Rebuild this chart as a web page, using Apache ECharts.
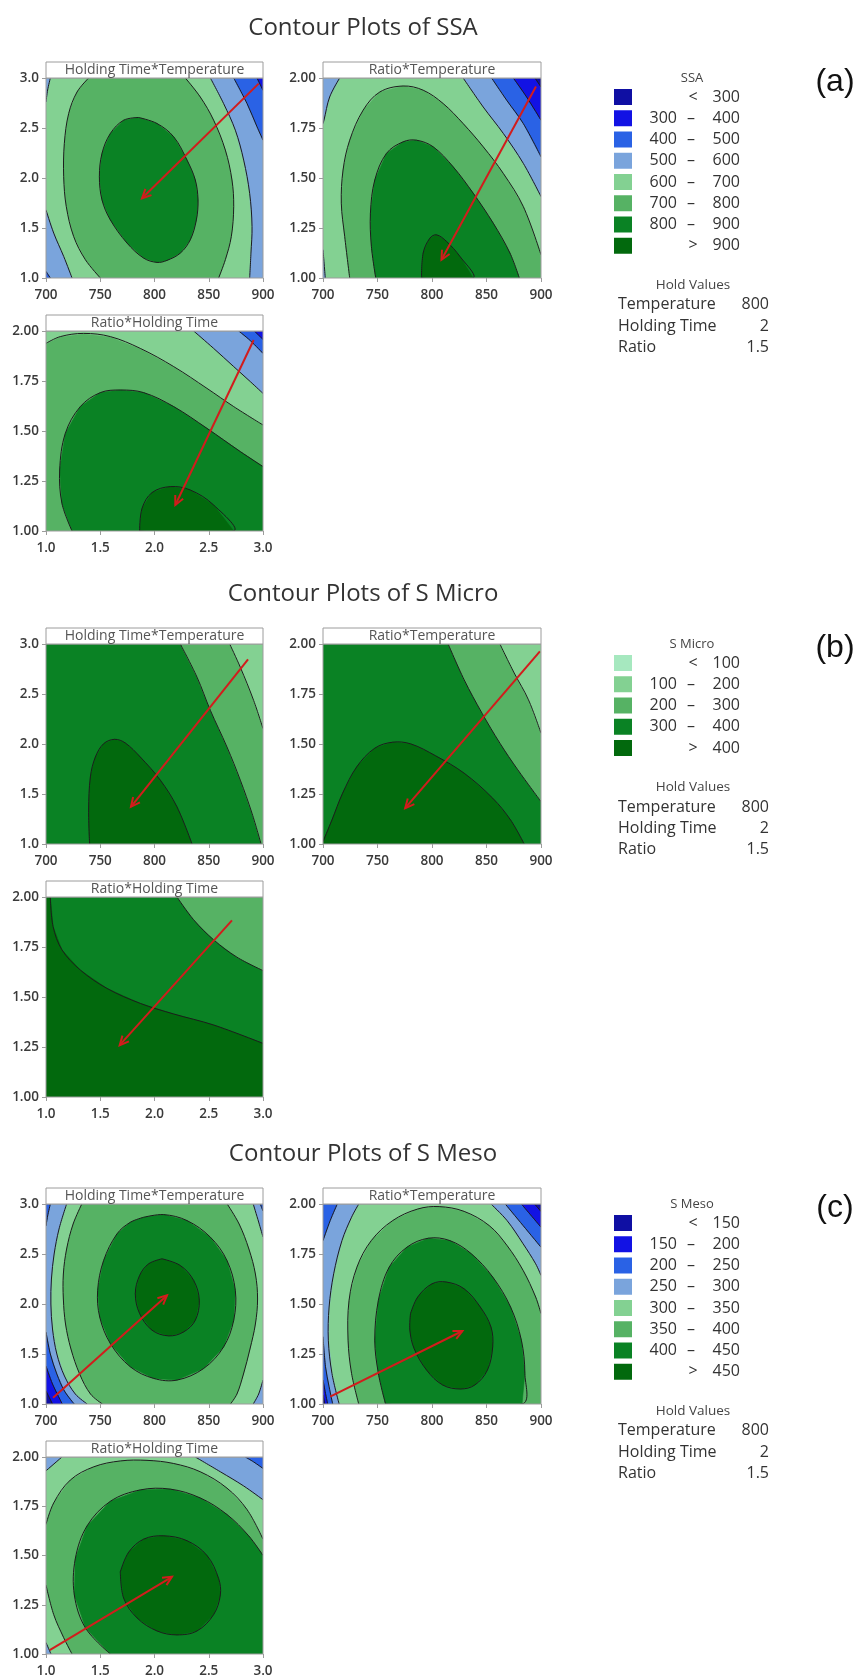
<!DOCTYPE html>
<html><head><meta charset="utf-8">
<script src="https://cdn.jsdelivr.net/npm/echarts/dist/echarts.min.js"></script>
<style>html,body{margin:0;padding:0;background:#fff}#c{width:859px;height:1678px}</style>
</head><body><div id="c"></div><script>
// ---------- tick labels / axes ----------
const TEMP_TICKS = [700, 750, 800, 850, 900];
const HT_TICKS = [1.0, 1.5, 2.0, 2.5, 3.0];
const RATIO_TICKS = [1.00, 1.25, 1.50, 1.75, 2.00];

// ---------- legend levels / colours ----------
const SSA_LEVELS = [300, 400, 500, 600, 700, 800, 900];
const MICRO_LEVELS = [100, 200, 300, 400];
const MESO_LEVELS = [150, 200, 250, 300, 350, 400, 450];
const SSA_COLORS = ['#0f0fa3', '#1212e4', '#2a62e5', '#7aa4dc', '#83d192', '#56b264', '#0a8224', '#02690d'];
const MICRO_COLORS = ['#a6e8bf', '#83d192', '#56b264', '#0a8224', '#02690d'];
const MESO_COLORS = ['#0f0fa3', '#1212e4', '#2a62e5', '#7aa4dc', '#83d192', '#56b264', '#0a8224', '#02690d'];
const HOLD_NAMES = ['Temperature', 'Holding Time', 'Ratio'];
const HOLD_VALUES = ['800', '2', '1.5'];

// ---------- (a) SSA : Holding Time * Temperature ----------
const A1_800 = [[785.4,2.605],[802.3,2.545],[817.7,2.412],[830.0,2.179],[837.6,1.980],[840.1,1.781],[838.6,1.581],[833.0,1.382],[823.8,1.249],[811.5,1.176],[802.3,1.156],[790.0,1.199],[774.7,1.349],[759.3,1.581],[751.6,1.781],[749.2,2.013],[751.6,2.246],[759.3,2.445],[771.6,2.578]];
const A1_700L = [[739.3,3.0],[728.6,2.86],[720.9,2.645],[716.9,2.346],[716.3,2.013],[718.7,1.714],[725.5,1.415],[736.3,1.183],[750.1,1.0]];
const A1_700R = [[859.1,1.0],[865.3,1.183],[870.8,1.415],[873.0,1.714],[871.4,1.98],[865.3,2.279],[854.5,2.578],[842.2,2.81],[828.4,3.0]];
const A1_600TL = [[704.0,3.0],[701.5,2.88],[700,2.76]];
const A1_600BL = [[700,1.681],[707.1,1.449],[716.3,1.216],[724.0,1.0]];
const A1_600R = [[851.5,3.0],[863.7,2.744],[874.5,2.478],[882.2,2.179],[887.7,1.847],[889.9,1.515],[888.9,1.249],[887.7,1.0]];
const A1_500R = [[873.0,3.0],[885.3,2.744],[894.5,2.512],[900,2.379]];
const A1_500BL = [[700,1.066],[704,1.0]];
const A1_400R = [[894.5,3.0],[900,2.877]];
const A1_ARROW = [896, 2.944, 788.5, 1.797];

// ---------- (a) SSA : Ratio * Temperature ----------
const A2_700 = [[724.5,1.0],[719.9,1.208],[716.8,1.374],[718.4,1.540],[724.5,1.689],[736.8,1.839],[752.1,1.930],[773.5,1.960],[791.9,1.939],[810.3,1.872],[828.6,1.772],[847.0,1.656],[865.4,1.523],[883.8,1.357],[900,1.116]];
const A2_800 = [[748.4,1.0],[744.4,1.158],[743.5,1.324],[747.5,1.490],[758.2,1.623],[773.5,1.681],[785.8,1.689],[801.1,1.656],[819.4,1.556],[837.8,1.424],[856.2,1.274],[871.5,1.125],[880.1,1.0]];
const A2_900 = [[790.4,1.0],[791.9,1.125],[798.0,1.199],[804.1,1.216],[813.3,1.183],[825.6,1.108],[837.8,1.0]];
const A2_600TL = [[715.3,2.0],[706.1,1.905],[700.9,1.789],[700,1.772]];
const A2_600BL = [[700,1.141],[702.1,1.0]];
const A2_600R = [[828.6,2.0],[847.0,1.855],[865.4,1.723],[883.8,1.573],[900,1.407]];
const A2_500 = [[854.7,2.0],[868.5,1.889],[883.8,1.772],[900,1.606]];
const A2_400 = [[874.6,2.0],[886.8,1.905],[900,1.789]];
const A2_300 = [[894.5,2.0],[900,1.955]];
const A2_ARROW = [895.4, 1.958, 808.7, 1.091];

// ---------- (a) SSA : Ratio * Holding Time ----------
const A3_700 = [[1.0,1.938],[1.132,1.972],[1.347,1.988],[1.593,1.972],[1.869,1.913],[2.177,1.822],[2.484,1.713],[2.730,1.622],[3.0,1.530]];
const A3_600 = [[2.361,2.0],[2.545,1.913],[2.730,1.822],[2.883,1.747],[3.0,1.688]];
const A3_500 = [[2.776,2.0],[2.883,1.952],[3.0,1.888]];
const A3_400 = [[2.920,2.0],[3.0,1.958]];
const A3_800 = [[1.240,1.0],[1.147,1.138],[1.126,1.305],[1.178,1.488],[1.316,1.622],[1.501,1.692],[1.685,1.705],[1.900,1.692],[2.177,1.622],[2.484,1.513],[2.791,1.397],[3.0,1.322]];
const A3_900 = [[1.863,1.0],[1.885,1.113],[1.977,1.192],[2.146,1.222],[2.330,1.205],[2.545,1.130],[2.730,1.0]];
const A3_ARROW = [2.914, 1.955, 2.192, 1.130];

// ---------- (b) S Micro ----------
const B1_300 = [[823.8,3.0],[839.2,2.668],[851.5,2.336],[866.8,1.970],[879.1,1.638],[889.9,1.306],[898.2,1.0]];
const B1_200 = [[869.3,3.0],[879.1,2.767],[891.4,2.435],[900,2.153]];
const B1_400 = [[740.2,1.0],[739.3,1.339],[740.9,1.671],[745.5,1.870],[753.1,2.003],[763.3,2.047],[773.1,2.010],[786.9,1.870],[805.4,1.638],[820.7,1.372],[834.6,1.0]];
const B1_ARROW = [886.2, 2.847, 778.3, 1.372];
const B2_300 = [[814.8,2.0],[829.5,1.821],[845.9,1.654],[862.3,1.504],[878.7,1.371],[900,1.212]];
const B2_200 = [[862.3,2.0],[875.4,1.855],[888.5,1.721],[900,1.554]];
const B2_400 = [[700,1.012],[708.2,1.120],[718.0,1.254],[731.1,1.387],[747.5,1.479],[763.9,1.509],[780.3,1.501],[803.3,1.441],[829.5,1.354],[855.7,1.229],[872.1,1.120],[884.6,1.0]];
const B2_ARROW = [899.0, 1.963, 775.4, 1.179];
const B3_400 = [[1.040,2.0],[1.065,1.853],[1.147,1.736],[1.316,1.635],[1.562,1.543],[1.869,1.468],[2.177,1.415],[2.545,1.360],[3.0,1.268]];
const B3_300 = [[2.207,2.0],[2.361,1.886],[2.545,1.786],[2.760,1.699],[3.0,1.632]];
const B3_ARROW = [2.714, 1.883, 1.679, 1.259];

// ---------- (c) S Meso ----------
const C1_450 = [[806.9,2.452],[823.8,2.385],[836.1,2.236],[841.3,2.037],[837.6,1.837],[826.9,1.721],[813.1,1.681],[797.7,1.738],[786.3,1.904],[782.3,2.103],[786.3,2.286],[794.6,2.402]];
const C1_400 = [[790.0,2.867],[808.4,2.894],[830.0,2.834],[851.5,2.668],[866.8,2.435],[874.5,2.136],[873.0,1.837],[863.7,1.571],[845.3,1.355],[820.7,1.239],[799.2,1.256],[777.7,1.372],[759.3,1.605],[749.5,1.870],[747.6,2.136],[753.1,2.435],[765.4,2.701],[777.7,2.817]];
const C1_350L = [[733,3.0],[725,2.8],[719,2.55],[716,2.3],[716,2.05],[718,1.8],[723,1.55],[731,1.3],[741,1.1],[752,1.0]];
const C1_350R = [[870,1.0],[876,1.1],[882,1.3],[888,1.55],[893,1.8],[895,2.05],[893,2.3],[887,2.55],[878,2.8],[867,3.0]];
const C1_300L = [[719,3.0],[712,2.75],[707.5,2.5],[705,2.25],[704.5,2.0],[706,1.75],[710,1.5],[717,1.28],[727,1.1],[738,1.0]];
const C1_300TR = [[891,3.0],[896,2.82],[900,2.67]];
const C1_300BR = [[900,1.24],[896,1.1],[891,1.0]];
const C1_250TL = [[704,3.0],[701.5,2.88],[700,2.78]];
const C1_250BL = [[700,1.72],[704,1.5],[710,1.3],[717,1.13],[726,1.0]];
const C1_250TR = [[897.5,3.0],[900,2.93]];
const C1_200 = [[700,1.38],[706,1.2],[715,1.0]];
const C1_150 = [[700,1.13],[706,1.0]];
const C1_ARROW = [706.5, 1.063, 811.5, 2.086];
const C2_450 = [[780.3,1.452],[786.9,1.535],[800.0,1.601],[813.1,1.610],[829.5,1.576],[844.3,1.485],[854.1,1.385],[855.7,1.286],[850.8,1.169],[839.3,1.095],[826.2,1.075],[809.8,1.095],[795.1,1.169],[783.6,1.277],[779.7,1.369]];
const C2_400 = [[757.4,1.0],[750.8,1.153],[747.5,1.319],[750.8,1.518],[760.7,1.684],[777.0,1.784],[796.7,1.829],[816.4,1.817],[836.1,1.751],[855.7,1.635],[872.1,1.485],[882.0,1.319],[885.2,1.153],[882.6,1.0]];
const C2_350 = [[732.8,1.0],[726.2,1.153],[723.0,1.319],[723.9,1.518],[731.1,1.684],[744.3,1.817],[763.9,1.917],[786.9,1.975],[806.6,1.987],[829.5,1.963],[852.5,1.892],[868.9,1.792],[883.6,1.668],[895.1,1.535],[900,1.452]];
const C2_300L = [[714.8,1.0],[708.2,1.153],[704.9,1.319],[705.6,1.485],[709.8,1.651],[717.4,1.817],[726.2,1.934],[732.8,2.0]];
const C2_300R = [[854.1,2.0],[868.9,1.917],[883.6,1.801],[895.1,1.701],[900,1.643]];
const C2_250TL = [[713.1,2.0],[706.6,1.917],[700,1.817]];
const C2_250BL = [[700,1.336],[702.3,1.186],[705.6,1.086],[708.9,1.0]];
const C2_200BL = [[700,1.120],[702.3,1.053],[704.3,1.0]];
const C2_150BL = [[700,1.045],[701.6,1.0]];
const C2_250TR = [[867.2,2.0],[883.6,1.892],[900,1.784]];
const C2_200TR = [[882.0,2.0],[891.8,1.937],[900,1.884]];
const C2_150TR = [[894.1,2.0],[900,1.963]];
const C2_ARROW = [706.6, 1.037, 827.9, 1.365];
const C3_450 = [[1.685,1.417],[1.762,1.517],[1.900,1.583],[2.084,1.60],[2.300,1.575],[2.484,1.50],[2.591,1.383],[2.607,1.30],[2.545,1.20],[2.392,1.117],[2.207,1.097],[2.023,1.117],[1.839,1.183],[1.716,1.283]];
const C3_400 = [[1.593,1.0],[1.363,1.133],[1.261,1.3],[1.270,1.483],[1.378,1.65],[1.593,1.775],[1.869,1.833],[2.146,1.837],[2.422,1.792],[2.668,1.708],[2.868,1.60],[3.0,1.50]];
const C3_350 = [[1.0,1.658],[1.071,1.767],[1.224,1.883],[1.439,1.950],[1.685,1.980],[1.931,1.983],[2.177,1.967],[2.422,1.925],[2.668,1.842],[2.853,1.733],[3.0,1.583]];
const C3_350BL = [[1.24,1.0],[1.163,1.083],[1.071,1.2],[1.0,1.35]];
const C3_300TL = [[1.147,2.0],[1.0,1.930]];
const C3_300BL = [[1.0,1.058],[1.046,1.0]];
const C3_300TR = [[2.376,2.0],[2.607,1.925],[2.822,1.853],[3.0,1.783]];
const C3_250TR = [[2.837,2.0],[2.914,1.975],[3.0,1.942]];
const C3_ARROW = [1.034, 1.02, 2.161, 1.392];

// ================= layout & rendering =================
const FONT = '"Open Sans", "Noto Sans", "DejaVu Sans", sans-serif';
const RED = '#d21c1c';
const LINE = '#1c1c1c';
const FRAME = '#9c9c9c';
const SEC_OY = [0, 566, 1126];
const SECTIONS = [
  {title: 'Contour Plots of SSA', name: 'SSA', levels: SSA_LEVELS, colors: SSA_COLORS, tag: '(a)'},
  {title: 'Contour Plots of S Micro', name: 'S Micro', levels: MICRO_LEVELS, colors: MICRO_COLORS, tag: '(b)'},
  {title: 'Contour Plots of S Meso', name: 'S Meso', levels: MESO_LEVELS, colors: MESO_COLORS, tag: '(c)'}
];
const POS = [
  {left: 46, top: 78, width: 217, height: 200, xk: 'T', yk: 'HT', head: 'Holding Time*Temperature'},
  {left: 323, top: 78, width: 218, height: 200, xk: 'T', yk: 'R', head: 'Ratio*Temperature'},
  {left: 46, top: 331, width: 217, height: 200, xk: 'HT', yk: 'R', head: 'Ratio*Holding Time'}
];
const KINDS = {
  T: {ticks: TEMP_TICKS, dec: 0},
  HT: {ticks: HT_TICKS, dec: 1},
  R: {ticks: RATIO_TICKS, dec: 2}
};

const CLOSED = new Set([A1_800, A2_900, A3_900, C1_450, C1_400, C2_450, C2_400, C3_450]);

const PANELS = [
  {sec: 0, pos: 0, bg: 4, arrow: A1_ARROW,
   regions: [[5, [A1_700L, A1_700R]], [6, [A1_800]], [3, [A1_600TL, 'TL']], [3, [A1_600BL, 'BL']], [3, [A1_600R, 'BR', 'TR']], [2, [A1_500R, 'TR']], [2, [A1_500BL, 'BL']], [1, [A1_400R, 'TR']]],
   lines: [A1_800, A1_700L, A1_700R, A1_600TL, A1_600BL, A1_600R, A1_500R, A1_500BL, A1_400R]},
  {sec: 0, pos: 1, bg: 4, arrow: A2_ARROW,
   regions: [[5, [A2_700, 'BR']], [6, [A2_800]], [7, [A2_900]], [3, [A2_600TL, 'TL']], [3, [A2_600BL, 'BL']], [3, [A2_600R, 'TR']], [2, [A2_500, 'TR']], [1, [A2_400, 'TR']], [0, [A2_300, 'TR']]],
   lines: [A2_700, A2_800, A2_900, A2_600TL, A2_600BL, A2_600R, A2_500, A2_400, A2_300]},
  {sec: 0, pos: 2, bg: 5, arrow: A3_ARROW,
   regions: [[4, [A3_700, 'TR', 'TL']], [3, [A3_600, 'TR']], [2, [A3_500, 'TR']], [1, [A3_400, 'TR']], [6, [A3_800, 'BR']], [7, [A3_900]]],
   lines: [A3_700, A3_600, A3_500, A3_400, A3_800, A3_900]},
  {sec: 1, pos: 0, bg: 3, arrow: B1_ARROW,
   regions: [[2, [B1_300, 'BR', 'TR']], [1, [B1_200, 'TR']], [4, [B1_400]]],
   lines: [B1_300, B1_200, B1_400]},
  {sec: 1, pos: 1, bg: 3, arrow: B2_ARROW,
   regions: [[2, [B2_300, 'TR']], [1, [B2_200, 'TR']], [4, [B2_400, 'BL']]],
   lines: [B2_300, B2_200, B2_400]},
  {sec: 1, pos: 2, bg: 3, arrow: B3_ARROW,
   regions: [[4, [B3_400, 'BR', 'BL', 'TL']], [2, [B3_300, 'TR']]],
   lines: [B3_400, B3_300]},
  {sec: 2, pos: 0, bg: 4, arrow: C1_ARROW,
   regions: [[5, [C1_350L, C1_350R]], [6, [C1_400]], [7, [C1_450]], [3, [C1_300L, 'BL', 'TL']], [3, [C1_300TR, 'TR']], [3, [C1_300BR, 'BR']], [2, [C1_250TL, 'TL']], [2, [C1_250BL, 'BL']], [2, [C1_250TR, 'TR']], [1, [C1_200, 'BL']], [0, [C1_150, 'BL']]],
   lines: [C1_450, C1_400, C1_350L, C1_350R, C1_300L, C1_300TR, C1_300BR, C1_250TL, C1_250BL, C1_250TR, C1_200, C1_150]},
  {sec: 2, pos: 1, bg: 4, arrow: C2_ARROW,
   regions: [[5, [C2_350, 'BR']], [6, [C2_400]], [7, [C2_450]], [3, [C2_300L, 'TL', 'BL']], [3, [C2_300R, 'TR']], [2, [C2_250TL, 'TL']], [2, [C2_250BL, 'BL']], [2, [C2_250TR, 'TR']], [1, [C2_200BL, 'BL']], [1, [C2_200TR, 'TR']], [0, [C2_150BL, 'BL']], [0, [C2_150TR, 'TR']]],
   lines: [C2_450, C2_400, C2_350, C2_300L, C2_300R, C2_250TL, C2_250BL, C2_250TR, C2_200BL, C2_200TR, C2_150BL, C2_150TR]},
  {sec: 2, pos: 2, bg: 4, arrow: C3_ARROW,
   regions: [[5, [C3_350, 'BR', C3_350BL]], [6, [C3_400, 'BR']], [7, [C3_450]], [3, [C3_300TL, 'TL']], [3, [C3_300BL, 'BL']], [3, [C3_300TR, 'TR']], [2, [C3_250TR, 'TR']]],
   lines: [C3_450, C3_400, C3_350, C3_350BL, C3_300TL, C3_300BL, C3_300TR, C3_250TR]}
];

const grids = [], xAxes = [], yAxes = [], series = [], graphics = [];

function axisCfg(kind, gi, isX) {
  const k = KINDS[kind], t = k.ticks;
  return {
    type: 'value', gridIndex: gi, min: t[0], max: t[t.length - 1], interval: t[1] - t[0],
    axisLine: {show: false}, splitLine: {show: false},
    axisTick: {show: true, inside: false, length: 4, lineStyle: {color: FRAME, width: 1}},
    axisLabel: {show: true, color: '#3a3a3a', fontFamily: FONT, fontSize: 13.5, fontWeight: 600,
      margin: isX ? 10 : 7, formatter: v => Number(v).toFixed(k.dec)}
  };
}

function extOf(P) {
  const xs = KINDS[POS[P.pos].xk].ticks, ys = KINDS[POS[P.pos].yk].ticks;
  return {x0: xs[0], x1: xs[xs.length - 1], y0: ys[0], y1: ys[ys.length - 1]};
}
function buildPts(spec, ex) {
  const out = [];
  spec.forEach(s => {
    if (typeof s === 'string') out.push([s[1] === 'L' ? ex.x0 : ex.x1, s[0] === 'T' ? ex.y1 : ex.y0]);
    else s.forEach(p => out.push(p));
  });
  return out;
}

PANELS.forEach((P, gi) => {
  const L = POS[P.pos], oy = SEC_OY[P.sec], S = SECTIONS[P.sec];
  const pal = S.colors, ex = extOf(P);
  grids.push({left: L.left, top: L.top + oy, width: L.width, height: L.height, containLabel: false});
  xAxes.push(axisCfg(L.xk, gi, true));
  yAxes.push(axisCfg(L.yk, gi, false));
  const items = [{kind: 'bg'}];
  P.regions.forEach(r => items.push({kind: 'fill', color: pal[r[0]], spec: r[1]}));
  P.lines.forEach(l => items.push({kind: 'line', pts: l, closed: CLOSED.has(l)}));
  items.push({kind: 'arrow', a: P.arrow});
  series.push({
    type: 'custom', xAxisIndex: gi, yAxisIndex: gi, clip: true, silent: true, animation: false, z: 2,
    data: items.map(() => [ex.x0, ex.y0]),
    renderItem: (params, api) => {
      const it = items[params.dataIndex];
      const cs = params.coordSys;
      if (it.kind === 'bg') {
        return {type: 'rect', shape: {x: cs.x, y: cs.y, width: cs.width, height: cs.height}, style: {fill: pal[P.bg]}};
      }
      if (it.kind === 'fill') {
        const pts = buildPts(it.spec, ex).map(p => api.coord(p));
        return {type: 'polygon', shape: {points: pts}, style: {fill: it.color, stroke: it.color, lineWidth: 0.6}};
      }
      if (it.kind === 'line') {
        const pts = it.pts.map(p => api.coord(p));
        if (it.closed) pts.push(pts[0]);
        return {type: 'polyline', shape: {points: pts, smooth: 0.35}, style: {stroke: LINE, lineWidth: 1, fill: null}};
      }
      const a = api.coord([it.a[0], it.a[1]]), b = api.coord([it.a[2], it.a[3]]);
      const ang = Math.atan2(b[1] - a[1], b[0] - a[0]), len = 10, w = 0.45;
      const p1 = [b[0] - len * Math.cos(ang - w), b[1] - len * Math.sin(ang - w)];
      const p2 = [b[0] - len * Math.cos(ang + w), b[1] - len * Math.sin(ang + w)];
      return {type: 'group', children: [
        {type: 'line', shape: {x1: a[0], y1: a[1], x2: b[0], y2: b[1]}, style: {stroke: RED, lineWidth: 2}},
        {type: 'polyline', shape: {points: [p1, b, p2]}, style: {stroke: RED, lineWidth: 2, fill: null}}
      ]};
    }
  });
  // frame + header strip
  series.push({
    type: 'custom', xAxisIndex: gi, yAxisIndex: gi, clip: false, silent: true, animation: false, z: 5,
    data: [[ex.x0, ex.y0]],
    renderItem: (params) => {
      const cs = params.coordSys, hh = 16;
      return {type: 'group', children: [
        {type: 'rect', shape: {x: cs.x, y: cs.y, width: cs.width, height: cs.height}, style: {fill: null, stroke: FRAME, lineWidth: 1}},
        {type: 'rect', shape: {x: cs.x, y: cs.y - hh, width: cs.width, height: hh}, style: {fill: '#fff', stroke: FRAME, lineWidth: 1}},
        {type: 'text', x: cs.x + cs.width / 2, y: cs.y - hh / 2 + 0.5,
         style: {text: L.head, fill: '#555', font: '14px ' + FONT, align: 'center', verticalAlign: 'middle'}}
      ]};
    }
  });
});

// titles & legends
SECTIONS.forEach((S, si) => {
  const oy = SEC_OY[si];
  graphics.push({type: 'text', x: 363, y: 28 + oy, style: {text: S.title, fill: '#333', font: '24px ' + FONT, align: 'center', verticalAlign: 'middle'}});
  graphics.push({type: 'text', x: 835, y: 82 + oy, style: {text: S.tag, fill: '#111', font: '32px "Liberation Sans", Arial, sans-serif', align: 'center', verticalAlign: 'middle'}});
  graphics.push({type: 'text', x: 692, y: 78 + oy, style: {text: S.name, fill: '#444', font: '13px ' + FONT, align: 'center', verticalAlign: 'middle'}});
  const n = S.levels.length;
  const rowY = i => 97 + oy + i * 21.25;
  const lf = '16px ' + FONT;
  for (let i = 0; i <= n; i++) {
    const y = rowY(i);
    graphics.push({type: 'rect', shape: {x: 614, y: y - 8, width: 18, height: 16}, style: {fill: S.colors[i]}});
    if (i === 0 || i === n) {
      graphics.push({type: 'text', x: 693, y: y, style: {text: i === 0 ? '<' : '>', fill: '#333', font: lf, align: 'center', verticalAlign: 'middle'}});
      graphics.push({type: 'text', x: 740, y: y, style: {text: String(S.levels[i === 0 ? 0 : n - 1]), fill: '#333', font: lf, align: 'right', verticalAlign: 'middle'}});
    } else {
      graphics.push({type: 'text', x: 677, y: y, style: {text: String(S.levels[i - 1]), fill: '#333', font: lf, align: 'right', verticalAlign: 'middle'}});
      graphics.push({type: 'text', x: 691, y: y, style: {text: '–', fill: '#333', font: lf, align: 'center', verticalAlign: 'middle'}});
      graphics.push({type: 'text', x: 740, y: y, style: {text: String(S.levels[i]), fill: '#333', font: lf, align: 'right', verticalAlign: 'middle'}});
    }
  }
  const hy = rowY(n) + 39;
  graphics.push({type: 'text', x: 693, y: hy, style: {text: 'Hold Values', fill: '#444', font: '13.5px ' + FONT, align: 'center', verticalAlign: 'middle'}});
  HOLD_NAMES.forEach((nm, j) => {
    const y = hy + 20 + j * 21.3;
    graphics.push({type: 'text', x: 618, y: y, style: {text: nm, fill: '#333', font: lf, align: 'left', verticalAlign: 'middle'}});
    graphics.push({type: 'text', x: 769, y: y, style: {text: HOLD_VALUES[j], fill: '#333', font: lf, align: 'right', verticalAlign: 'middle'}});
  });
});

const chart = echarts.init(document.getElementById('c'), null, {renderer: 'canvas'});
chart.setOption({
  backgroundColor: '#fff', animation: false,
  grid: grids, xAxis: xAxes, yAxis: yAxes, series: series,
  graphic: {elements: graphics}
});
</script></body></html>
